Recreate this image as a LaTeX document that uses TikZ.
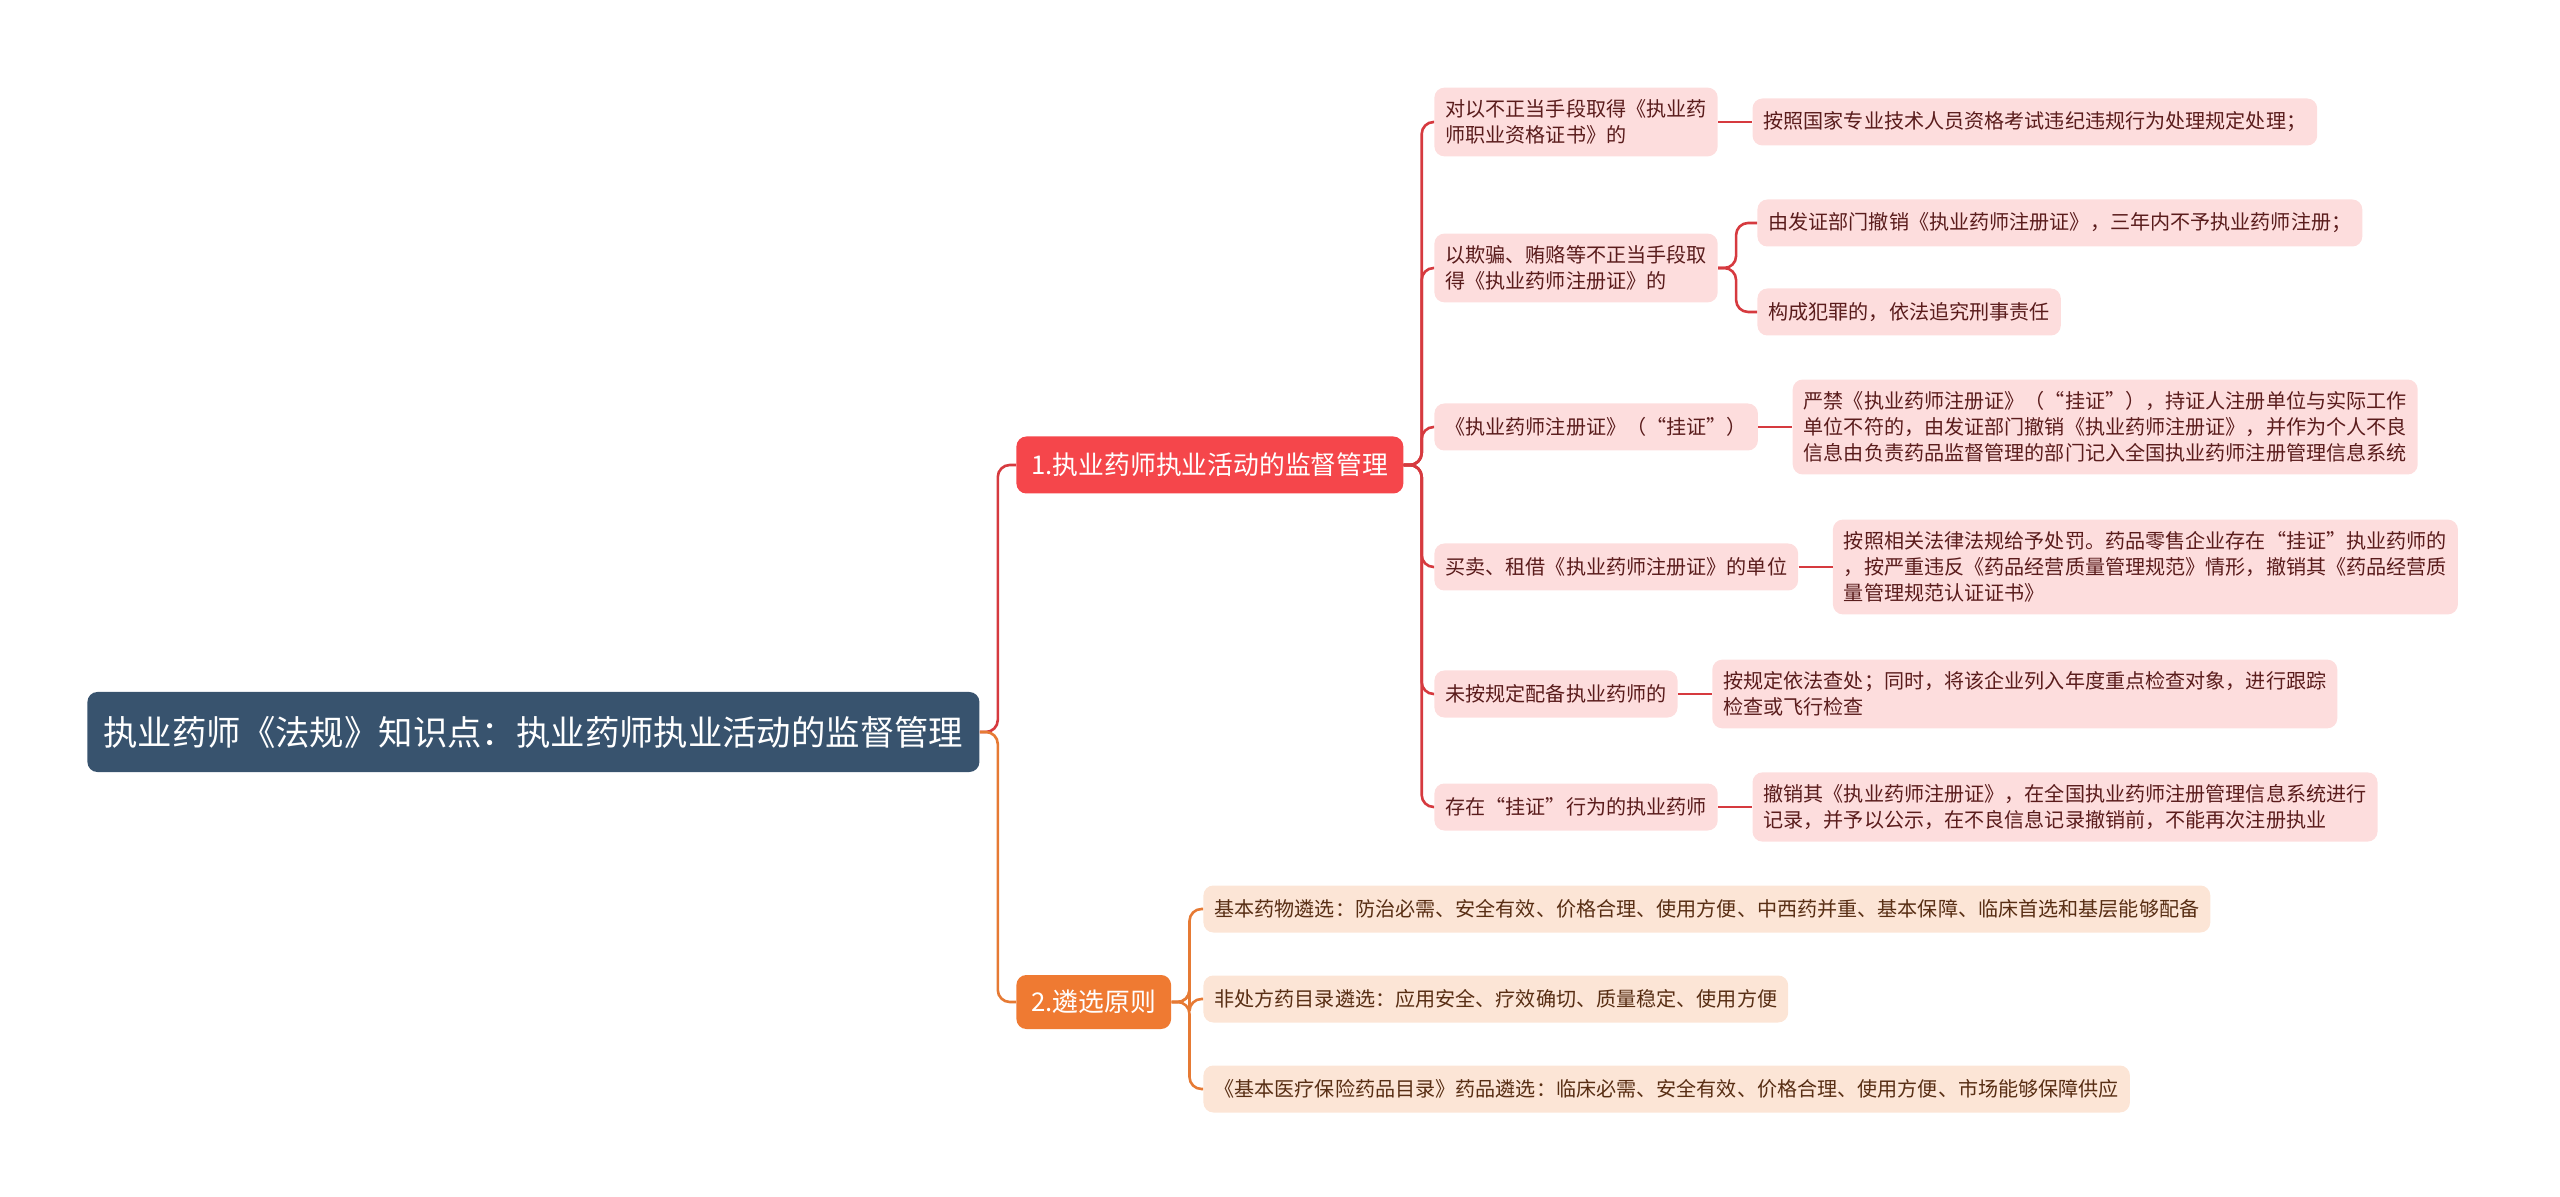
\documentclass[tikz,border=0pt]{standalone}
\usepackage{fontspec}
\setmainfont{Noto Sans CJK SC}
\usepackage{xcolor}
\usetikzlibrary{positioning}
\definecolor{rootblue}{RGB}{56,83,110}
\definecolor{mainred}{RGB}{245,70,75}
\definecolor{mainorange}{RGB}{239,122,50}
\definecolor{linkred}{RGB}{214,58,63}
\definecolor{linkorange}{RGB}{230,122,52}
\definecolor{leafpink}{RGB}{253,221,221}
\definecolor{leafpeach}{RGB}{252,229,214}
\definecolor{textred}{RGB}{90,28,28}
\definecolor{textbrown}{RGB}{88,46,20}

\tikzset{
  rootbox/.style={fill=rootblue, text=white, rounded corners=5pt, minimum height=40pt, inner xsep=8pt, font=\fontsize{17.2}{20}\selectfont},
  mainbox/.style={rounded corners=5pt, text=white, inner xsep=7.5pt, font=\fontsize{12.9}{15}\selectfont},
  leafbox/.style={rounded corners=5pt, fill=leafpink, text=textred, inner xsep=5.5pt, inner ysep=6pt, minimum height=23.5pt, align=left, font=\fontsize{10.05}{13}\selectfont},
  peachbox/.style={leafbox, fill=leafpeach, text=textbrown},
  link/.style={line width=1.3pt, rounded corners=6pt},
}

\begin{document}
\begin{tikzpicture}[x=0.5pt, y=-0.5pt, node distance=17pt]
    \useasboundingbox (0,0) rectangle (2560,1197);

    % root and main branches
    \node[rootbox, anchor=west] (root) at (87,732) {执业药师《法规》知识点：执业药师执业活动的监督管理};
    \node[mainbox, fill=mainred, minimum height=28.5pt, anchor=west] (m1) at (1016,465) {1.执业药师执业活动的监督管理};
    \node[mainbox, fill=mainorange, minimum height=27pt, anchor=west] (m2) at (1016,1002) {2.遴选原则};

    % branch 1
    \node[leafbox, anchor=west] (a1) at (1434,122) {对以不正当手段取得《执业药\\师职业资格证书》的};
    \node[leafbox, anchor=west] (a2) at (1434,268) {以欺骗、贿赂等不正当手段取\\得《执业药师注册证》的};
    \node[leafbox, anchor=west] (a3) at (1434,427) {《执业药师注册证》（“挂证”）};
    \node[leafbox, anchor=west] (a4) at (1434,567) {买卖、租借《执业药师注册证》的单位};
    \node[leafbox, anchor=west] (a5) at (1434,694) {未按规定配备执业药师的};
    \node[leafbox, anchor=west] (a6) at (1434,807) {存在“挂证”行为的执业药师};

    \node[leafbox, right=of a1] (l1) {按照国家专业技术人员资格考试违纪违规行为处理规定处理；};
    \node[leafbox, anchor=west] (l2a) at (1757,223) {由发证部门撤销《执业药师注册证》，三年内不予执业药师注册；};
    \node[leafbox, anchor=west] (l2b) at (1757,312) {构成犯罪的，依法追究刑事责任};
    \node[leafbox, right=of a3] (l3) {严禁《执业药师注册证》（“挂证”），持证人注册单位与实际工作\\单位不符的，由发证部门撤销《执业药师注册证》，并作为个人不良\\信息由负责药品监督管理的部门记入全国执业药师注册管理信息系统};
    \node[leafbox, right=of a4] (l4) {按照相关法律法规给予处罚。药品零售企业存在“挂证”执业药师的\\，按严重违反《药品经营质量管理规范》情形，撤销其《药品经营质\\量管理规范认证证书》};
    \node[leafbox, right=of a5] (l5) {按规定依法查处；同时，将该企业列入年度重点检查对象，进行跟踪\\检查或飞行检查};
    \node[leafbox, right=of a6] (l6) {撤销其《执业药师注册证》，在全国执业药师注册管理信息系统进行\\记录，并予以公示，在不良信息记录撤销前，不能再次注册执业};

    % branch 2
    \node[peachbox, anchor=west] (b1) at (1203,909) {基本药物遴选：防治必需、安全有效、价格合理、使用方便、中西药并重、基本保障、临床首选和基层能够配备};
    \node[peachbox, anchor=west] (b2) at (1203,999) {非处方药目录遴选：应用安全、疗效确切、质量稳定、使用方便};
    \node[peachbox, anchor=west] (b3) at (1203,1089) {《基本医疗保险药品目录》药品遴选：临床必需、安全有效、价格合理、使用方便、市场能够保障供应};

    % connectors
    \draw[link, linkred] (root.east) -- ++(9pt,0) |- (m1.west);
    \draw[link, linkorange] (root.east) -- ++(9pt,0) |- (m2.west);
    \foreach \i in {1,...,6}
        \draw[link, linkred] (m1.east) -- ++(9pt,0) |- (a\i.west);
    \foreach \i in {1,3,4,5,6}
        \draw[link, linkred] (a\i.east) -- (l\i.west);
    \draw[link, linkred] (a2.east) -- ++(9pt,0) |- (l2a.west);
    \draw[link, linkred] (a2.east) -- ++(9pt,0) |- (l2b.west);
    \foreach \i in {1,2,3}
        \draw[link, linkorange] (m2.east) -- ++(9pt,0) |- (b\i.west);
\end{tikzpicture}
\end{document}
